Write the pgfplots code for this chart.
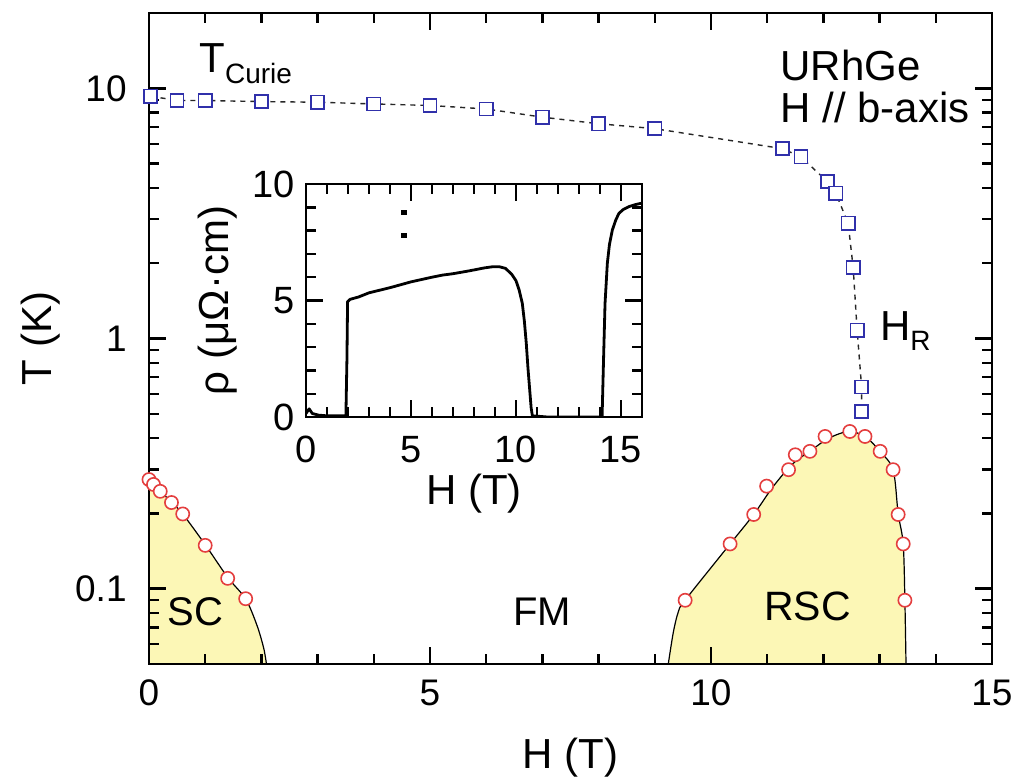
\documentclass[border=0pt]{standalone}
\usepackage{fontspec}
\setmainfont{Liberation Sans}
\usepackage{pgfplots}
\pgfplotsset{compat=1.18}

\definecolor{scfill}{RGB}{252,247,182}
\definecolor{scred}{RGB}{228,62,62}
\definecolor{tcblue}{RGB}{48,48,170}

\newcommand{\fs}[1]{\fontsize{#1}{#1}\selectfont}

\pgfplotsset{
  framed ticks/.style={
    tick pos=both,
    tick align=inside,
    major tick length=8.5pt, minor tick length=5pt,
    major tick style={draw=black, line width=1.3pt},
    minor tick style={draw=black, line width=1.2pt},
    axis line style={line width=1.4pt},
    /pgf/number format/assume math mode=true,
  },
}

\begin{document}
\begin{tikzpicture}
\useasboundingbox[fill=white] (-74.5pt,-57pt) rectangle (440.5pt,332pt);

% ---------------- main phase diagram ----------------
\begin{axis}[
  framed ticks,
  at={(0pt,0pt)}, anchor=south west,
  scale only axis, width=421.5pt, height=325.5pt,
  xmin=0, xmax=15, ymode=log, ymin=0.05, ymax=20,
  log origin y=infty,
  xtick={0,5,10,15}, minor xtick={1,2,3,4,6,7,8,9,11,12,13,14},
  ytick={0.1,1,10}, yticklabels={0.1,1,10},
  minor ytick={0.05,0.06,0.07,0.08,0.09,0.2,0.3,0.4,0.5,0.6,0.7,0.8,0.9,2,3,4,5,6,7,8,9,20},
  tick label style={font=\fs{18.5pt}},
  xticklabel style={anchor=base, yshift=-20.5pt, inner sep=0pt},
  yticklabel style={anchor=east, xshift=-11pt, inner sep=0pt},
  axis on top,
]
% superconducting pockets
\addplot[draw=none, fill=scfill, smooth, tension=0.5] coordinates {
  (0,0.28) (0.2,0.246) (0.4,0.222) (0.6,0.199) (1.0,0.150) (1.4,0.111)
  (1.72,0.091) (1.92,0.0715) (2.04,0.058) (2.09,0.05)} \closedcycle;
\addplot[draw=none, fill=scfill, smooth, tension=0.5] coordinates {
  (9.24,0.05) (9.33,0.067) (9.42,0.081) (9.54,0.09) (10.34,0.151) (10.76,0.198)
  (11.1,0.255) (11.45,0.315) (11.8,0.36) (12.1,0.40) (12.45,0.425) (12.75,0.405)
  (13.0,0.355) (13.24,0.299) (13.33,0.2) (13.42,0.151) (13.45,0.09) (13.47,0.05)} \closedcycle;

% phase boundaries
\addplot[black, line width=0.6pt, smooth, tension=0.5] coordinates {
  (0,0.28) (0.2,0.246) (0.4,0.222) (0.6,0.199) (1.0,0.150) (1.4,0.111)
  (1.72,0.091) (1.92,0.0715) (2.04,0.058) (2.09,0.05)};
\addplot[black, line width=0.6pt, smooth, tension=0.5] coordinates {
  (9.24,0.05) (9.33,0.067) (9.42,0.081) (9.54,0.09) (10.34,0.151) (10.76,0.198)
  (11.1,0.255) (11.45,0.315) (11.8,0.36) (12.1,0.40) (12.45,0.425) (12.75,0.405)
  (13.0,0.355) (13.24,0.299) (13.33,0.2) (13.42,0.151) (13.45,0.09) (13.47,0.05)};

% Curie temperature and metamagnetic field H_R
\addplot[black!85, line width=0.7pt, dash pattern=on 2.5pt off 2.5pt,
  mark=square*, mark size=3.3pt,
  mark options={solid, draw=tcblue, fill=white, line width=0.8pt}] coordinates {
  (0.03,9.3) (0.5,8.94) (1.0,8.94) (2.0,8.85) (3.0,8.80) (4.0,8.66) (5.0,8.54)
  (6.0,8.27) (7.0,7.67) (8.0,7.22) (9.0,6.90) (11.27,5.74) (11.6,5.32)
  (12.07,4.24) (12.22,3.81) (12.44,2.89) (12.53,1.92) (12.6,1.08)
  (12.68,0.64) (12.68,0.51)};

% superconducting transition points
\addplot[only marks, mark=*, mark size=3.3pt,
  mark options={draw=scred, fill=white, line width=0.8pt}] coordinates {
  (0.0,0.273) (0.08,0.261) (0.2,0.245) (0.4,0.221) (0.6,0.199) (1.0,0.149)
  (1.4,0.110) (1.72,0.0912)};
\addplot[only marks, mark=*, mark size=3.3pt,
  mark options={draw=scred, fill=white, line width=0.8pt}] coordinates {
  (9.54,0.0899) (10.34,0.151) (10.76,0.198) (10.99,0.257) (11.38,0.299)
  (11.50,0.343) (11.76,0.354) (12.03,0.406) (12.47,0.425) (12.74,0.406)
  (13.01,0.354) (13.24,0.299) (13.33,0.198) (13.42,0.151) (13.45,0.0899)};

% annotations
\node[anchor=base west, inner sep=0pt, font=\fs{21pt}] at (axis cs:0.89,11.57)
  {T\raisebox{-5.5pt}{\fs{14pt}Curie}};
\node[anchor=base west, inner sep=0pt, font=\fs{21pt}] at (axis cs:11.23,10.76) {URhGe};
\node[anchor=base west, inner sep=0pt, font=\fs{21pt}] at (axis cs:11.23,7.33) {H // b-axis};
\node[anchor=base west, inner sep=0pt, font=\fs{21pt}] at (axis cs:13.0,0.98)
  {H\raisebox{-5pt}{\fs{14pt}R}};
\node[anchor=base west, inner sep=0pt, font=\fs{20pt}] at (axis cs:0.32,0.0713) {SC};
\node[anchor=base, inner sep=0pt, font=\fs{20pt}] at (axis cs:7.0,0.0713) {FM};
\node[anchor=base, inner sep=0pt, font=\fs{20.5pt}] at (axis cs:11.72,0.0746) {RSC};
\end{axis}

% ---------------- inset: resistivity ----------------
\begin{axis}[
  framed ticks,
  at={(78.5pt,123.5pt)}, anchor=south west,
  scale only axis, width=168pt, height=116.5pt,
  xmin=0, xmax=16, ymin=0, ymax=10,
  xtick={0,5,10,15}, ytick={0,5,10},
  minor xtick={1,2,3,4,6,7,8,9,11,12,13,14,16},
  minor ytick={1,2,3,4,6,7,8,9},
  axis background/.style={fill=white},
  tick label style={font=\fs{19pt}},
  xticklabel style={anchor=base, yshift=-22.5pt, inner sep=0pt},
  yticklabel style={anchor=east, xshift=-5.5pt, inner sep=0pt},
  axis on top,
]
\addplot[black, line width=1.4pt, line join=round] coordinates {
  (0,0.15) (0.15,0.35) (0.3,0.15) (0.6,0.08) (1.0,0.05) (1.9,0.05) (1.95,2.5)
  (1.98,4.95) (2.1,5.05) (2.5,5.15) (3.0,5.33) (4.0,5.55) (5.0,5.8) (6.0,6.0)
  (6.5,6.09) (7.0,6.15) (7.76,6.27) (8.5,6.4) (8.9,6.45) (9.2,6.45) (9.5,6.38)
  (9.8,6.12) (10.0,5.85) (10.15,5.45) (10.3,4.88) (10.4,4.1) (10.49,3.16)
  (10.57,2.1) (10.65,1.2) (10.72,0.4) (10.78,0.05) (11.5,0.0) (14.1,0.0)
  (14.17,2.5) (14.24,4.87) (14.35,6.6) (14.45,7.4) (14.59,8.03) (14.75,8.45)
  (14.9,8.74) (15.1,8.9) (15.38,9.03) (15.7,9.12) (16,9.18)};
\addplot[only marks, mark=square*, mark size=1.1pt, black] coordinates {
  (4.67,8.77) (4.67,7.80)};
\end{axis}

% axis titles
\node[font=\fs{21pt}, anchor=base] at (210.75pt,-52pt) {H (T)};
\node[font=\fs{21pt}, rotate=90, anchor=base] at (-48.5pt,162.75pt) {T (K)};
\node[font=\fs{21pt}, anchor=base] at (162.5pt,80pt) {H (T)};
\node[font=\fs{21pt}, rotate=90, anchor=base] at (39.5pt,181.75pt) {ρ (μΩ·cm)};
\end{tikzpicture}
\end{document}
